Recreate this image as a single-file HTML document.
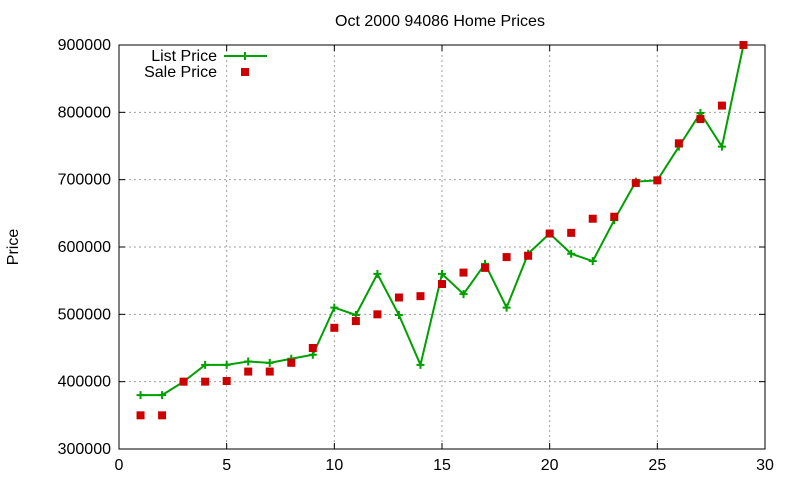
<!DOCTYPE html>
<html><head><meta charset="utf-8"><style>
html,body{margin:0;padding:0;background:#fff;}
svg text{font-family:"Liberation Sans",sans-serif;font-size:16px;fill:#000;}
</style></head><body>
<svg id="chart" width="800" height="480" viewBox="0 0 800 480">
<rect x="0" y="0" width="800" height="480" fill="#fff"/>
<text x="440" y="26" text-anchor="middle">Oct 2000 94086 Home Prices</text>
<text x="18" y="247" text-anchor="middle" transform="rotate(-90 18 247)">Price</text>
<g id="grid"></g><g id="axes"></g><g id="series"></g>
<g>
<text x="217" y="61" text-anchor="end">List Price</text>
<line x1="224" y1="56" x2="267" y2="56" stroke="#00a000" stroke-width="2"/>
<path d="M241 56h8M245 52v8" stroke="#00a000" stroke-width="2"/>
<text x="217" y="77" text-anchor="end">Sale Price</text>
<rect x="241" y="68" width="8" height="8" fill="#cc0000"/>
</g>
</svg>
<script>
const xVals=[1,2,3,4,5,6,7,8,9,10,11,12,13,14,15,16,17,18,19,20,21,22,23,24,25,26,27,28,29];
const listPrice=[380000,380000,400000,425000,425000,430000,428000,434000,440000,510000,499000,560000,499000,425000,560000,530000,575000,510000,590000,620000,590000,579000,640000,697000,699000,749000,799000,749000,900000];
const salePrice=[350000,350000,400000,400000,401000,415000,415000,428000,450000,480000,490000,500000,525000,527000,545000,562000,569000,585000,587000,620000,621000,642000,645000,695000,699000,754000,790000,810000,900000];
const xTicks=[0,5,10,15,20,25,30];
const yTicks=[300000,400000,500000,600000,700000,800000,900000];
const NS="http://www.w3.org/2000/svg";
const L=119,R=765,T=45,B=449;
const sx=v=>L+(v-0)/30*(R-L);
const sy=v=>B-(v-300000)/600000*(B-T);
function mk(tag,attrs,parent){const e=document.createElementNS(NS,tag);for(const k in attrs)e.setAttribute(k,attrs[k]);parent.appendChild(e);return e;}
const grid=document.getElementById('grid'),axes=document.getElementById('axes'),ser=document.getElementById('series');
yTicks.forEach(v=>{const y=sy(v);
 if(v>300000&&v<900000){const g=mk('line',{x1:L,x2:R,y1:y,y2:y,stroke:'#a0a0a0','stroke-dasharray':'2,3','stroke-width':1},grid);
 
 }
 const t=mk('text',{x:L-8,y:y+5,'text-anchor':'end'},axes);t.textContent=v;
 
 
 mk('line',{x1:L,x2:L+6,y1:y,y2:y,stroke:'#000'},axes);mk('line',{x1:R,x2:R-6,y1:y,y2:y,stroke:'#000'},axes);});
xTicks.forEach(v=>{const x=sx(v);
 if(v>0&&v<30){const g=mk('line',{x1:x,x2:x,y1:T,y2:B,stroke:'#a0a0a0','stroke-dasharray':'2,3','stroke-width':1},grid);
 
 }
 const t=mk('text',{x:x,y:B+21,'text-anchor':'middle'},axes);t.textContent=v;
 
 
 mk('line',{x1:x,x2:x,y1:B,y2:B-6,stroke:'#000'},axes);mk('line',{x1:x,x2:x,y1:T,y2:T+6,stroke:'#000'},axes);});
const frame=mk('rect',{x:L,y:T,width:R-L,height:B-T,fill:'none',stroke:'#000'},axes);


const pts=xVals.map((x,i)=>sx(x)+','+sy(listPrice[i])).join(' ');
const pl=mk('polyline',{points:pts,fill:'none',stroke:'#00a000','stroke-width':2},ser);


xVals.forEach((x,i)=>{const cx=sx(x),cy=sy(listPrice[i]);
 const p=mk('path',{d:`M${cx-4} ${cy}h8M${cx} ${cy-4}v8`,stroke:'#00a000','stroke-width':2},ser);
 
 });
xVals.forEach((x,i)=>{const cx=sx(x),cy=sy(salePrice[i]);
 const r=mk('rect',{x:cx-4,y:cy-4,width:8,height:8,fill:'#cc0000'},ser);
 
 });
</script>
</body></html>
